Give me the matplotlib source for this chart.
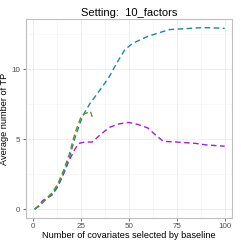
import matplotlib
matplotlib.use("Agg")
import matplotlib.pyplot as plt
from matplotlib.ticker import MultipleLocator

# values
x_teal = [1, 3, 5, 8, 10, 13, 16, 19, 22, 25, 27, 30, 32, 37, 40, 44, 48, 52, 56, 60, 65, 71, 75, 80, 85, 90, 95, 100]
y_teal = [0, 0.2, 0.45, 0.85, 1.05, 1.65, 2.55, 3.65, 5.1, 6.3, 6.9, 7.6, 7.95, 8.9, 9.5, 10.5, 11.4, 11.85, 12.1, 12.35, 12.57, 12.83, 12.87, 12.9, 12.95, 12.97, 12.95, 12.92]

x_green = [1, 3, 5, 8, 10, 13, 16, 19, 22, 25, 27, 29, 30, 31]
y_green = [0, 0.25, 0.5, 0.9, 1.15, 1.8, 2.75, 3.9, 5.45, 6.55, 6.85, 6.9, 7.0, 6.6]

x_purple = [1, 3, 5, 8, 10, 13, 16, 19, 22, 24, 27, 31, 35, 40, 45, 50, 55, 60, 64, 68, 75, 80, 85, 90, 95, 100]
y_purple = [0, 0.2, 0.6, 0.85, 1.0, 1.6, 2.5, 3.5, 4.3, 4.7, 4.8, 4.8, 5.3, 5.85, 6.1, 6.2, 6.05, 5.8, 5.3, 4.85, 4.8, 4.75, 4.7, 4.6, 4.55, 4.5]

plt.rcParams['font.family'] = ['Liberation Sans', 'DejaVu Sans']

fig = plt.figure(figsize=(2.41, 2.41), dpi=100)
ax = fig.add_axes([0.108, 0.097, 0.853, 0.823])

ax.plot(x_purple, y_purple, color='#9b1fe8', lw=1.0, dashes=(4, 2.5), zorder=2)
ax.plot(x_teal, y_teal, color='#1a8a8a', lw=1.0, dashes=(4, 2.5), zorder=3)
ax.plot(x_green, y_green, color='#6b8e23', lw=1.0, dashes=(4, 2.5), dash_capstyle='butt', zorder=4)

ax.set_xlim(-3.5, 103.6)
ax.set_ylim(-0.6, 13.57)
ax.xaxis.set_major_locator(MultipleLocator(25))
ax.xaxis.set_minor_locator(MultipleLocator(12.5))
ax.yaxis.set_major_locator(MultipleLocator(5))
ax.yaxis.set_minor_locator(MultipleLocator(2.5))
ax.grid(which='major', color='#ebebeb', lw=0.6)
ax.grid(which='minor', color='#f4f4f4', lw=0.4)
ax.set_axisbelow(True)
for s in ax.spines.values():
    s.set_color('#bfbfbf')
    s.set_linewidth(0.8)
ax.tick_params(which='major', length=2.5, width=0.6, color='#555555', labelsize=5.8, labelcolor='#4d4d4d', pad=1.5)
ax.tick_params(which='minor', length=0)

ax.set_title("Setting:  10_factors", fontsize=8, pad=2.5)
ax.set_xlabel("Number of covariates selected by baseline", fontsize=6.6, labelpad=0.5)
ax.set_ylabel("Average number of TP", fontsize=6.6, labelpad=2)

fig.savefig("out.png", dpi=100)
